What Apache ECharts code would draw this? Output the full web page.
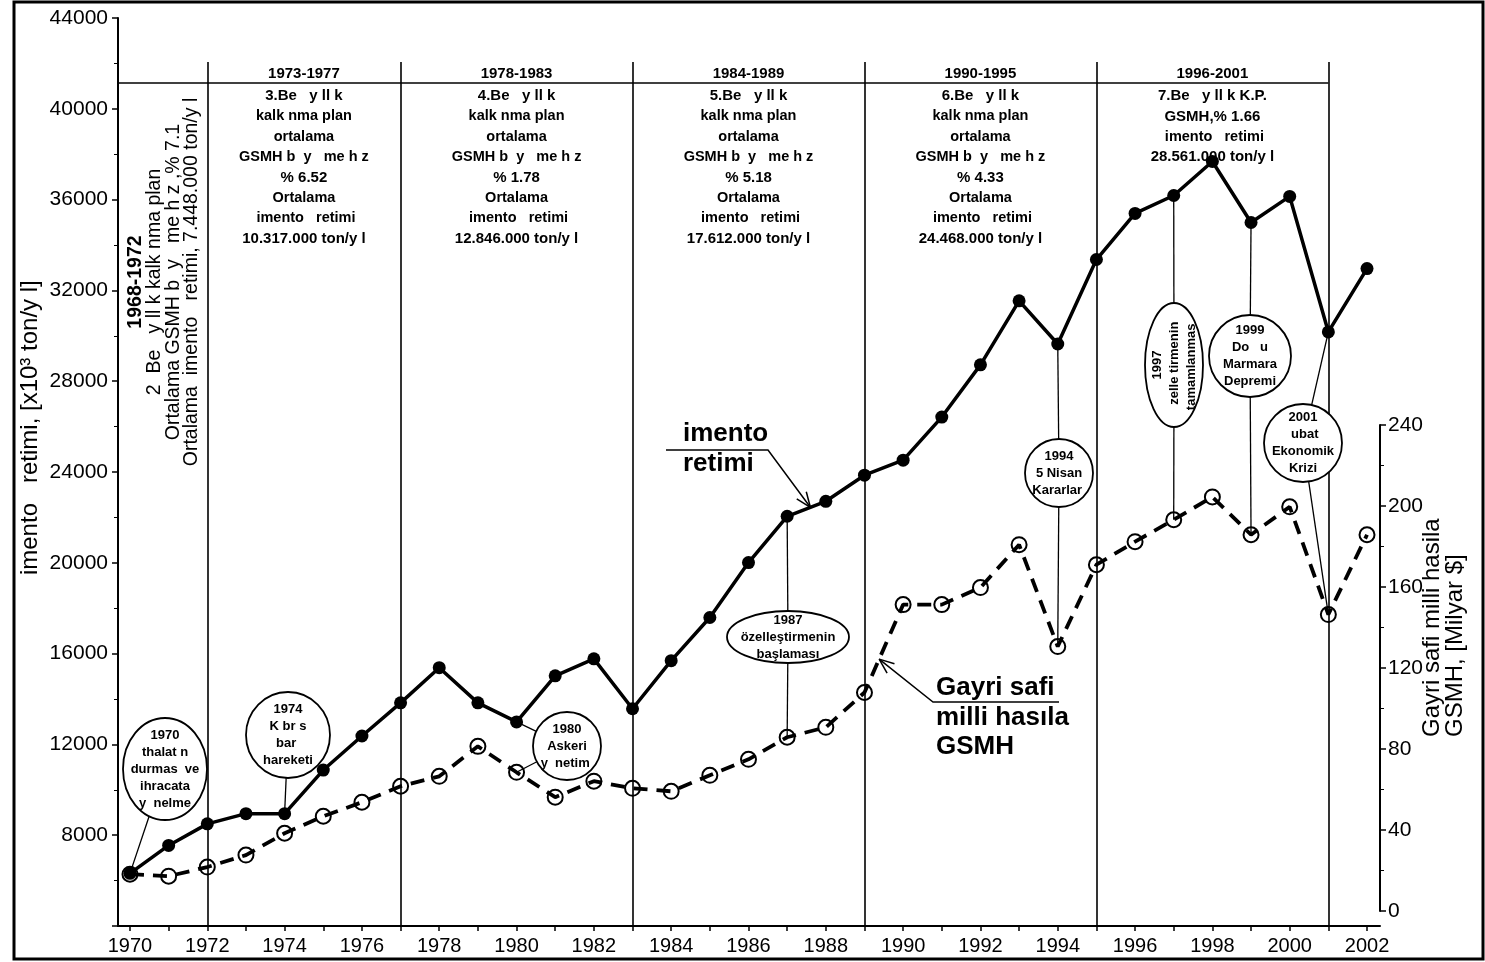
<!DOCTYPE html>
<html><head><meta charset="utf-8">
<script src="https://cdn.jsdelivr.net/npm/echarts@6/dist/echarts.min.js"></script>
<style>html,body{margin:0;padding:0;background:#fff}#c{width:1485px;height:962px}</style>
</head><body><div id="c"></div>
<script>
const years = [1970,1971,1972,1973,1974,1975,1976,1977,1978,1979,1980,1981,1982,1983,1984,1985,1986,1987,1988,1989,1990,1991,1992,1993,1994,1995,1996,1997,1998,1999,2000,2001,2002];
const cement = [6320,7550,8500,8950,8950,10870,12370,13830,15380,13830,12990,15020,15770,13570,15690,17590,20010,22050,22710,23860,24520,26420,28720,31540,29640,33360,35390,36180,37680,34990,36140,30170,32960];
const gnp = [18.2,17.2,21.7,27.6,38.4,46.8,53.7,61.6,66.5,81.3,68.5,56.2,64.1,60.6,59.1,67.0,74.9,85.8,90.7,107.9,151.3,151.3,159.7,180.9,130.6,171.0,182.4,193.2,204.5,185.8,199.6,146.4,185.8];
const xLabelYears = [1970,1972,1974,1976,1978,1980,1982,1984,1986,1988,1990,1992,1994,1996,1998,2000,2002];
const periodYears = [1972,1977,1983,1989,1995,2001];

const FONT = '"Liberation Sans", Arial, sans-serif';
const X_MIN = 1969.69, X_MAX = 2002.336;
const PERIOD_TOP = 42060, HEADER_Y = 41140;

const periods = [
  {from:1972,to:1977,title:'1973-1977',lines:[['b','3.Be   y ll k'],['n','kalk nma plan'],['n','ortalama'],['n','GSMH b  y   me h z'],['b','% 6.52'],['n','Ortalama'],['n',' imento   retimi'],['b','10.317.000 ton/y l']]},
  {from:1977,to:1983,title:'1978-1983',lines:[['b','4.Be   y ll k'],['n','kalk nma plan'],['n','ortalama'],['n','GSMH b  y   me h z'],['b','% 1.78'],['n','Ortalama'],['n',' imento   retimi'],['b','12.846.000 ton/y l']]},
  {from:1983,to:1989,title:'1984-1989',lines:[['b','5.Be   y ll k'],['n','kalk nma plan'],['n','ortalama'],['n','GSMH b  y   me h z'],['b','% 5.18'],['n','Ortalama'],['n',' imento   retimi'],['b','17.612.000 ton/y l']]},
  {from:1989,to:1995,title:'1990-1995',lines:[['b','6.Be   y ll k'],['n','kalk nma plan'],['n','ortalama'],['n','GSMH b  y   me h z'],['b','% 4.33'],['n','Ortalama'],['n',' imento   retimi'],['b','24.468.000 ton/y l']]},
  {from:1995,to:2001,title:'1996-2001',lines:[['b','7.Be   y ll k K.P.'],['b','GSMH,% 1.66'],['n',' imento   retimi'],['b','28.561.000 ton/y l']]}
];
const firstPlan = ['1968-1972','2  Be   y ll k kalk nma plan','Ortalama GSMH b  y   me h z ,% 7.1','Ortalama  imento   retimi, 7.448.000 ton/y l'];

const bubbles = [
  {cx:165,cy:769,rx:42,ry:51,lines:['1970','thalat n','durmas  ve','ihracata','y  nelme'],targets:[['c',1970]]},
  {cx:288,cy:735,rx:42,ry:43,lines:['1974','K br s','bar ','hareketi'],targets:[['c',1974]]},
  {cx:567,cy:746,rx:34,ry:34,lines:['1980','Askeri','y  netim '],targets:[['c',1980],['g',1980]]},
  {cx:788,cy:637,rx:61,ry:26,lines:['1987','özelleştirmenin','başlaması'],targets:[['c',1987],['g',1987]]},
  {cx:1059,cy:473,rx:34,ry:34,lines:['1994','5 Nisan','Kararlar '],targets:[['c',1994],['g',1994]]},
  {cx:1174,cy:365,rx:29,ry:62,rot:true,lines:['1997',' zelle tirmenin','tamamlanmas '],targets:[['c',1997],['g',1997]]},
  {cx:1250,cy:356,rx:41,ry:41,lines:['1999','Do   u','Marmara','Depremi'],targets:[['c',1999],['g',1999]]},
  {cx:1303,cy:443,rx:39,ry:39,lines:['2001',' ubat','Ekonomik','Krizi'],targets:[['c',2001],['g',2001]]}
];

const chart = echarts.init(document.getElementById('c'));
const axisLbl = {color:'#000', fontFamily:FONT, fontSize:21};
chart.setOption({
  animation:false,
  backgroundColor:'#fff',
  grid:[
    {left:118, right:105, top:18, bottom:36},
    {left:118, right:105, top:425, bottom:51}
  ],
  xAxis:[
    {type:'value', gridIndex:0, min:X_MIN, max:X_MAX,
     axisLine:{show:true, lineStyle:{color:'#000', width:2}},
     axisTick:{show:true, customValues:years, length:5, lineStyle:{color:'#000', width:1.5}},
     axisLabel:Object.assign({customValues:xLabelYears, margin:10, formatter:v=>String(Math.round(v))}, axisLbl, {fontSize:20}),
     splitLine:{show:false}},
    {type:'value', gridIndex:1, min:X_MIN, max:X_MAX, show:false}
  ],
  yAxis:[
    {type:'value', gridIndex:0, min:4000, max:44000, interval:4000,
     axisLine:{show:true, lineStyle:{color:'#000', width:2}},
     axisTick:{show:true, length:6, lineStyle:{color:'#000', width:1.5}},
     minorTick:{show:true, splitNumber:2, length:4, lineStyle:{color:'#000'}},
     axisLabel:Object.assign({margin:10, formatter:v=> v===4000 ? '' : String(v)}, axisLbl),
     splitLine:{show:false}},
    {type:'value', gridIndex:1, position:'right', min:0, max:240, interval:40,
     axisLine:{show:true, lineStyle:{color:'#000', width:2}},
     axisTick:{show:true, length:6, lineStyle:{color:'#000', width:1.5}},
     minorTick:{show:true, splitNumber:2, length:4, lineStyle:{color:'#000'}},
     axisLabel:Object.assign({margin:8, formatter:v=>String(v)}, axisLbl),
     splitLine:{show:false}}
  ],
  series:[
    {name:'cement', type:'line', xAxisIndex:0, yAxisIndex:0,
     data:years.map((y,i)=>[y,cement[i]]),
     symbol:'circle', symbolSize:13, z:5,
     itemStyle:{color:'#000'}, lineStyle:{color:'#000', width:3.5},
     markLine:{silent:true, symbol:['none','none'], label:{show:false},
       lineStyle:{color:'#000', width:1.6, type:'solid'},
       data: periodYears.map(y=>[{coord:[y,PERIOD_TOP]},{coord:[y,4000]}])
         .concat([[{coord:[X_MIN,HEADER_Y]},{coord:[2001,HEADER_Y]}]])}},
    {name:'gnp', type:'line', xAxisIndex:1, yAxisIndex:1,
     data:years.map((y,i)=>[y,gnp[i]]),
     symbol:'circle', symbolSize:15, z:4,
     itemStyle:{color:'rgba(255,255,255,0)', borderColor:'#000', borderWidth:2},
     lineStyle:{color:'#000', width:3.8, type:[14,9]}}
  ]
});

function cPt(yr){const i=years.indexOf(yr);return chart.convertToPixel({gridIndex:0},[yr,cement[i]]);}
function gPt(yr){const i=years.indexOf(yr);return chart.convertToPixel({gridIndex:1},[yr,gnp[i]]);}
function xPix(yr){return chart.convertToPixel({gridIndex:0},[yr,4000])[0];}

const G = [];
function text(x,y,str,font,o){o=o||{};
  G.push({type:'text', x:x, y:y, rotation:o.rot||0, z:o.z||20,
    style:{text:str, font:font, fill:'#000', align:o.align||'center', verticalAlign:o.va||'middle',
      textAlign:o.align||'center', textVerticalAlign:o.va||'middle', lineHeight:o.lh}});
}
function line(x1,y1,x2,y2,w,z){G.push({type:'line', z:z||1, shape:{x1,y1,x2,y2}, style:{stroke:'#000', lineWidth:w||1.3}});}
function arrowHead(tip,from,len){
  const a=Math.atan2(from[1]-tip[1],from[0]-tip[0]);
  [0.38,-0.38].forEach(d=>line(tip[0],tip[1],tip[0]+len*Math.cos(a+d),tip[1]+len*Math.sin(a+d),1.5,12));
}

// outer frame
G.push({type:'rect', z:0, shape:{x:14,y:2,width:1469,height:957}, style:{fill:'none', stroke:'#000', lineWidth:3}});

// period boxes
periods.forEach(p=>{
  const cx=(xPix(p.from)+xPix(p.to))/2;
  text(cx,74,p.title,'bold 15px '+FONT);
  p.lines.forEach((l,i)=>{
    text(cx,96+i*20.4,l[1], l[0]==='b' ? 'bold 15px '+FONT : 'bold 14.5px '+FONT);
  });
});
// first plan (rotated)
firstPlan.forEach((s,i)=>{
  text(136+i*18.7,282,s,(i===0?'bold ':'')+'19.5px '+FONT,{rot:Math.PI/2});
});
// axis names
text(30,431,' imento   retimi, [x10³ ton/y l]','24px '+FONT,{rot:Math.PI/2});
text(1432,737,'Gayri safi milli hasila','24px '+FONT,{rot:Math.PI/2, align:'left'});
text(1455,737,'GSMH, [Milyar $]','24px '+FONT,{rot:Math.PI/2, align:'left'});

// bubbles
bubbles.forEach(b=>{
  b.targets.forEach(t=>{
    const p = t[0]==='c' ? cPt(t[1]) : gPt(t[1]);
    const dx=p[0]-b.cx, dy=p[1]-b.cy;
    const k=1/Math.sqrt((dx/b.rx)**2+(dy/b.ry)**2);
    line(b.cx+dx*k,b.cy+dy*k,p[0],p[1],1.3,1);
  });
  G.push({type:'ellipse', z:10, shape:{cx:b.cx,cy:b.cy,rx:b.rx,ry:b.ry}, style:{fill:'#fff', stroke:'#000', lineWidth:1.8}});
  text(b.cx,b.cy,b.lines.join('\n'),'bold 13px '+FONT,{lh:17, z:11, rot:b.rot?Math.PI/2:0});
});

// arrow labels
const c87=cPt(1987), c88=cPt(1988);
const tipC=[c87[0]+(c88[0]-c87[0])*0.6, c87[1]+(c88[1]-c87[1])*0.6];
G.push({type:'polyline', z:12, shape:{points:[[666,450],[768,450],tipC]}, style:{fill:'none',stroke:'#000',lineWidth:1.5}});
arrowHead(tipC,[768,450],16);
text(683,434,'imento','bold 26px '+FONT,{align:'left'});
text(683,464,'retimi','bold 26px '+FONT,{align:'left'});

const g89=gPt(1989), g90=gPt(1990);
const tipG=[g89[0]+(g90[0]-g89[0])*0.38, g89[1]+(g90[1]-g89[1])*0.38];
G.push({type:'polyline', z:12, shape:{points:[[1059,702],[933,702],tipG]}, style:{fill:'none',stroke:'#000',lineWidth:1.5}});
arrowHead(tipG,[933,702],16);
text(936,688,'Gayri safi','bold 26px '+FONT,{align:'left'});
text(936,718,'milli hasıla','bold 26px '+FONT,{align:'left'});
text(936,747,'GSMH','bold 26px '+FONT,{align:'left'});

chart.setOption({graphic:{elements:G}});
</script></body></html>
